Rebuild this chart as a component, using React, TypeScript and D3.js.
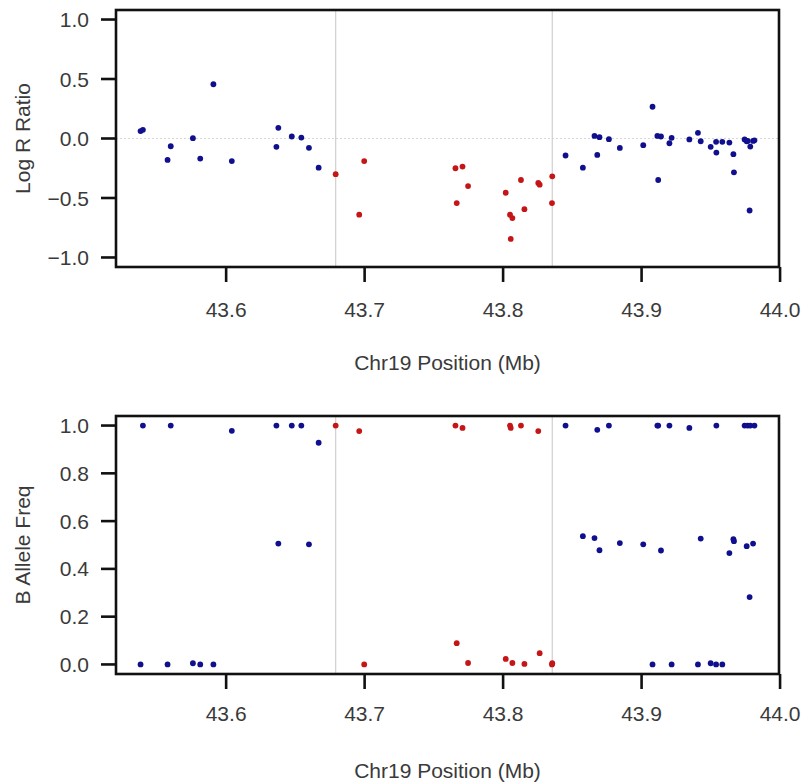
import React from "react";
import * as d3 from "d3";

// SNP positions on chr19 (Mb), with Log R Ratio and B Allele Freq
const positions = [
  43.5382, 43.5399, 43.5577, 43.5600, 43.5760, 43.5813, 43.5908, 43.6041, 43.6363, 43.6377,
  43.6474, 43.6543, 43.6598, 43.6668, 43.6791, 43.6961, 43.6997, 43.7656, 43.7665, 43.7707,
  43.7747, 43.8019, 43.8050, 43.8055, 43.8067, 43.8129, 43.8154, 43.8254, 43.8264, 43.8353,
  43.8355, 43.8451, 43.8576, 43.8660, 43.8680, 43.8696, 43.8764, 43.8843, 43.9012, 43.9079,
  43.9114, 43.9120, 43.9140, 43.9201, 43.9217, 43.9345, 43.9407, 43.9427, 43.9499, 43.9538,
  43.9540, 43.9583, 43.9634, 43.9663, 43.9667, 43.9744, 43.9759, 43.9766, 43.9780, 43.9785,
  43.9805, 43.9815,
];
const logR = [
  0.062, 0.073, -0.18, -0.065, 0.003, -0.169, 0.456, -0.19, -0.07, 0.09,
  0.017, 0.008, -0.078, -0.245, -0.3, -0.64, -0.19, -0.25, -0.543, -0.236,
  -0.4, -0.456, -0.641, -0.844, -0.669, -0.349, -0.594, -0.374, -0.388, -0.543,
  -0.318, -0.143, -0.245, 0.022, -0.138, 0.011, -0.006, -0.079, -0.056, 0.267,
  0.022, -0.349, 0.017, -0.04, 0.006, -0.008, 0.048, -0.023, -0.07, -0.028,
  -0.118, -0.028, -0.034, -0.132, -0.284, -0.008, -0.023, -0.02, -0.605, -0.068,
  -0.02, -0.015,
];
const bAllele = [
  0, 1, 0, 1, 0.005, 0, 0, 0.978, 1, 0.506,
  1, 1, 0.503, 0.928, 1, 0.977, 0, 1, 0.089, 0.99,
  0.006, 0.023, 1, 0.99, 0.006, 1, 0.002, 0.977, 0.047, 0,
  0.005, 1, 0.537, 0.529, 0.982, 0.478, 1, 0.508, 0.503, 0,
  1, 1, 0.477, 1, 0, 0.99, 0, 0.527, 0.005, 0,
  1, 0, 0.466, 0.524, 0.516, 1, 0.495, 1, 0.282, 1,
  0.506, 1,
];
// deleted segment boundaries (Mb)
const region = [43.6791, 43.8355];
const xTicks = [43.6, 43.7, 43.8, 43.9, 44.0];
const lrrTicks = [-1, -0.5, 0, 0.5, 1];
const bafTicks = [0, 0.2, 0.4, 0.6, 0.8, 1];

const W = 804, H = 784;
const left = 116, right = 779;
const font = "'Liberation Sans', Arial, sans-serif";
const textCol = "#3a3a3a";
const fs = 21;

// R-style 4% range expansion
const pad = ([a, b]) => { const d = (b - a) * 0.04; return [a - d, b + d]; };

const drawPanel = (g, xScale, yScale, values, ticks, yLabel, top, bottom, opts) => {
  const inRegion = p => p >= region[0] - 1e-6 && p <= region[1] + 1e-6;

  if (opts.zeroLine) {
    g.append('line')
      .attr('x1', left).attr('x2', right)
      .attr('y1', yScale(0)).attr('y2', yScale(0))
      .attr('stroke', '#d8d8d8').attr('stroke-width', 1).attr('stroke-dasharray', '2,2');
  }

  g.selectAll('line.region')
    .data(region)
    .join('line')
      .attr('class', 'region')
      .attr('x1', d => xScale(d)).attr('x2', d => xScale(d))
      .attr('y1', top).attr('y2', bottom)
      .attr('stroke', '#cfcfcf').attr('stroke-width', 1.2);

  g.selectAll('circle')
    .data(positions.map((p, i) => ({ p, v: values[i] })))
    .join('circle')
      .attr('cx', d => xScale(d.p))
      .attr('cy', d => yScale(d.v))
      .attr('r', 2.9)
      .attr('fill', d => inRegion(d.p) ? '#c41616' : '#10108e');

  // frame
  g.append('rect')
    .attr('x', left).attr('y', top)
    .attr('width', right - left).attr('height', bottom - top)
    .attr('fill', 'none').attr('stroke', '#111').attr('stroke-width', 2.6);

  // y axis
  const yAxis = g.append('g');
  yAxis.selectAll('line')
    .data(ticks)
    .join('line')
      .attr('x1', left - 15).attr('x2', left)
      .attr('y1', d => yScale(d)).attr('y2', d => yScale(d))
      .attr('stroke', '#111').attr('stroke-width', 2.6);
  yAxis.selectAll('text')
    .data(ticks)
    .join('text')
      .attr('x', 89).attr('y', d => yScale(d))
      .attr('dy', '0.36em')
      .attr('text-anchor', 'end')
      .attr('font-family', font).attr('font-size', fs).attr('fill', textCol)
      .text(d => d3.format('.1f')(d).replace('-', '\u2013'));
  g.append('text')
    .attr('transform', `translate(30,${(top + bottom) / 2}) rotate(-90)`)
    .attr('text-anchor', 'middle')
    .attr('font-family', font).attr('font-size', fs).attr('fill', textCol)
    .text(yLabel);

  // x axis
  const xAxis = g.append('g');
  xAxis.selectAll('line')
    .data(xTicks)
    .join('line')
      .attr('x1', d => xScale(d)).attr('x2', d => xScale(d))
      .attr('y1', bottom).attr('y2', bottom + 15)
      .attr('stroke', '#111').attr('stroke-width', 2.6);
  xAxis.selectAll('text')
    .data(xTicks)
    .join('text')
      .attr('x', d => xScale(d)).attr('y', bottom + opts.tickLab)
      .attr('dy', '0.36em')
      .attr('text-anchor', 'middle')
      .attr('font-family', font).attr('font-size', fs).attr('fill', textCol)
      .text(d => d3.format('.1f')(d));
  g.append('text')
    .attr('x', (left + right) / 2).attr('y', bottom + opts.titleLab)
    .attr('dy', '0.36em')
    .attr('text-anchor', 'middle')
    .attr('font-family', font).attr('font-size', fs).attr('fill', textCol)
    .text('Chr19 Position (Mb)');
};

const App = () => {
  const ref = React.useRef(null);

  React.useEffect(() => {
    const svg = d3.select(ref.current);
    svg.selectAll('*').remove();
    const xScale = d3.scaleLinear(pad(d3.extent(positions)), [left, right]);

    const topY = d3.scaleLinear(pad([-1, 1]), [267, 10]);
    drawPanel(svg.append('g'), xScale, topY, logR, lrrTicks, 'Log R Ratio', 10, 267,
      { zeroLine: true, tickLab: 42, titleLab: 95 });

    const botY = d3.scaleLinear(pad([0, 1]), [674, 416]);
    drawPanel(svg.append('g'), xScale, botY, bAllele, bafTicks, 'B Allele Freq', 416, 674,
      { zeroLine: false, tickLab: 39, titleLab: 96 });
  }, []);

  return (
    <div style={{ position: 'absolute', left: 0, top: 0 }}>
      <svg width={W} height={H} ref={ref} style={{ display: 'block', background: '#fff' }} />
    </div>
  );
};

export default App;
